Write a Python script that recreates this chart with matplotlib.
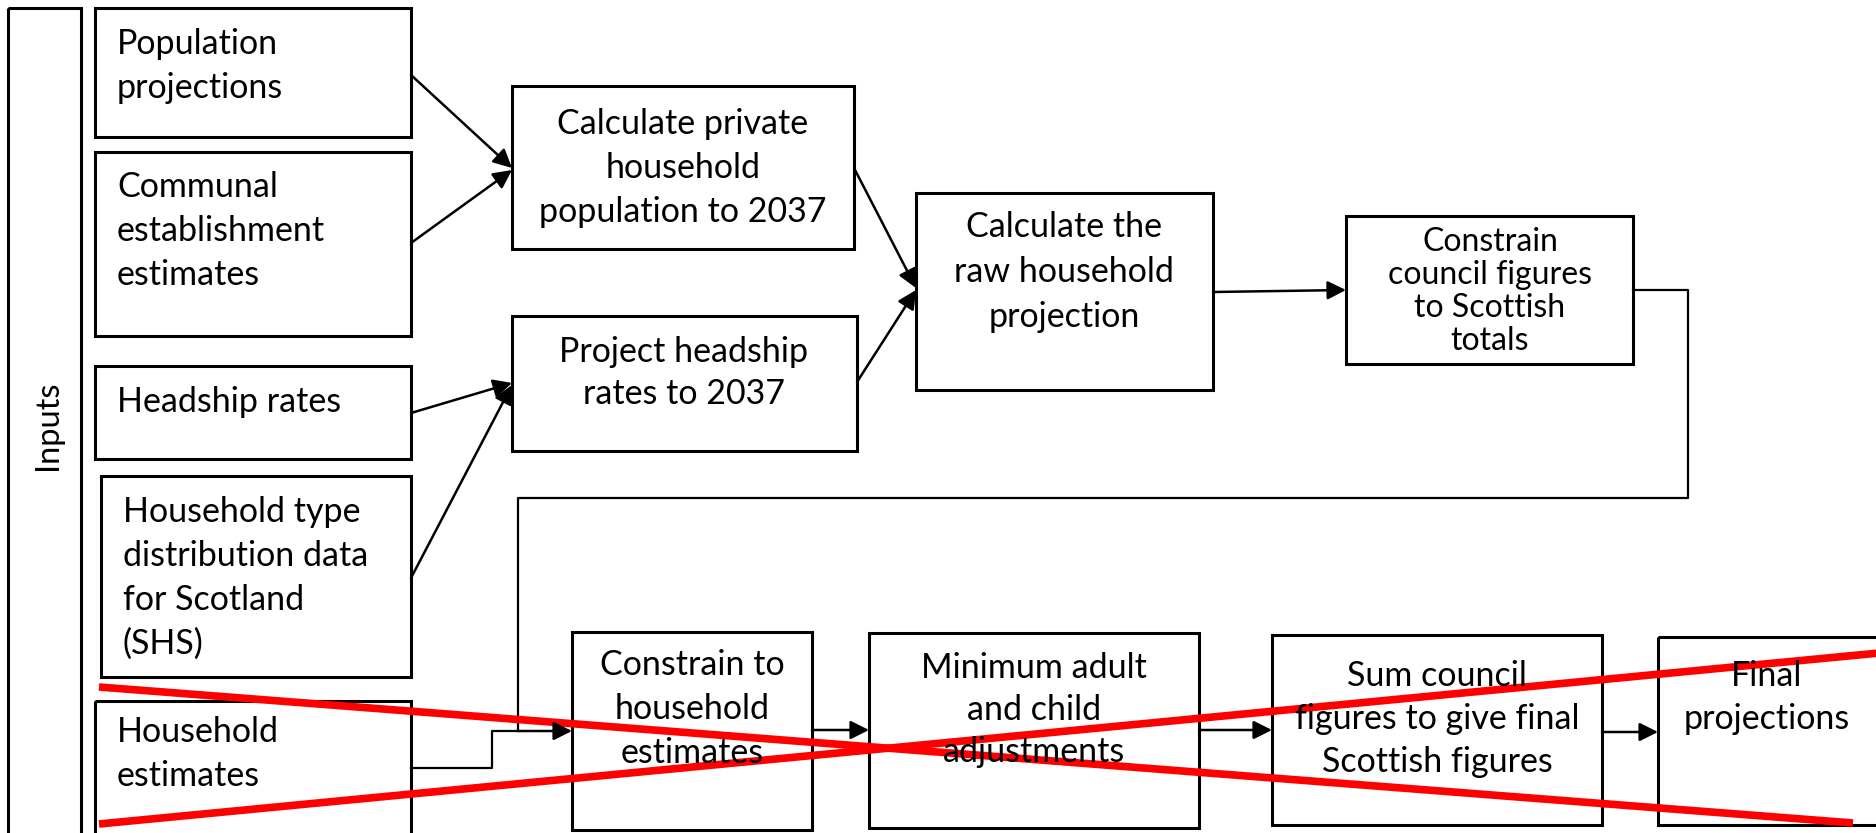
import matplotlib.pyplot as plt
from matplotlib.patches import Rectangle

# box texts
input_labels = ["Population\nprojections",
                "Communal\nestablishment\nestimates",
                "Headship rates",
                "Household type\ndistribution data\nfor Scotland\n(SHS)",
                "Household\nestimates"]
step_labels = ["Calculate private\nhousehold\npopulation to 2037",
               "Project headship\nrates to 2037",
               "Calculate the\nraw household\nprojection",
               "Constrain\ncouncil figures\nto Scottish\ntotals",
               "Constrain to\nhousehold\nestimates",
               "Minimum adult\nand child\nadjustments",
               "Sum council\nfigures to give final\nScottish figures",
               "Final\nprojections"]
side_label = "Inputs"

# layout in pixels (x0, y0, x1, y1), y downwards
input_boxes = [(95, 8, 411, 137), (95, 152, 411, 336), (95, 366, 411, 459),
               (101, 476, 411, 677), (95, 701, 411, 845)]
input_text_pos = [(117, 44), (117, 187), (117, 402), (123, 512), (117, 732)]
step_boxes = [(512, 86, 854, 249), (512, 316, 857, 451), (916, 193, 1213, 390),
              (1346, 216, 1633, 364), (572, 632, 812, 830), (869, 633, 1199, 828),
              (1272, 635, 1602, 825), (1658, 637, 1895, 825)]
step_text_pos = [(683, 124), (684, 352), (1064, 227), (1490, 242),
                 (692, 665), (1034, 668), (1437, 676), (1767, 676)]
step_spacing = [44, 42, 45, 33, 44, 42, 43, 43]
step_size = [24.5, 24.5, 24.5, 23, 24.5, 24.5, 24.5, 24.5]

arrows = [((411, 75), (512, 168)), ((411, 243), (512, 170)),
          ((411, 413), (512, 383)), ((411, 578), (512, 385)),
          ((854, 168), (916, 288)), ((857, 382), (916, 290)),
          ((1213, 292), (1346, 290)), ((812, 730), (869, 730)),
          ((1199, 730), (1272, 730)), ((1602, 732), (1658, 732))]

FONT = "Lato"

fig = plt.figure(figsize=(18.76, 8.33), dpi=100)
ax = fig.add_axes([0, 0, 1, 1])
ax.set_xlim(0, 1876)
ax.set_ylim(833, 0)
ax.axis("off")


def box(b, lw=2.2):
    x0, y0, x1, y1 = b
    ax.add_patch(Rectangle((x0, y0), x1 - x0, y1 - y0, fill=False,
                           edgecolor="black", lw=lw))


def lines(txt, x, y, dy, size, ha):
    for i, s in enumerate(txt.split("\n")):
        ax.text(x, y + i * dy, s, ha=ha, va="center", fontsize=size,
                family=FONT, color="black")


# inputs column
box((8, 8, 81, 845))
ax.text(48, 425, side_label, rotation=90, ha="center", va="center",
        fontsize=23.5, family=FONT)

for b, lab, (tx, ty) in zip(input_boxes, input_labels, input_text_pos):
    box(b)
    lines(lab, tx, ty, 44, 24.5, "left")

for b, lab, (tx, ty), dy, fs in zip(step_boxes, step_labels, step_text_pos,
                                    step_spacing, step_size):
    box(b)
    lines(lab, tx, ty, dy, fs, "center")

for p0, p1 in arrows:
    ax.annotate("", xy=p1, xytext=p0,
                arrowprops=dict(arrowstyle="-|>", color="black", lw=1.8,
                                mutation_scale=28, shrinkA=0, shrinkB=0))

# loop back from council constraint to household constraint
ax.plot([1633, 1688, 1688, 518, 518], [290, 290, 498, 498, 731],
        color="black", lw=1.6)
ax.plot([411, 492, 492, 518], [768, 768, 731, 731], color="black", lw=1.6)
ax.annotate("", xy=(572, 731), xytext=(518, 731),
            arrowprops=dict(arrowstyle="-|>", color="black", lw=1.8,
                            mutation_scale=28, shrinkA=0, shrinkB=0))

# red cross
ax.plot([99, 1853], [687, 823], color="#ff0000", lw=5.5, solid_capstyle="butt")
ax.plot([99, 1900], [824, 651], color="#ff0000", lw=5.5, solid_capstyle="butt")

fig.savefig("out.png", dpi=100, facecolor="white")
